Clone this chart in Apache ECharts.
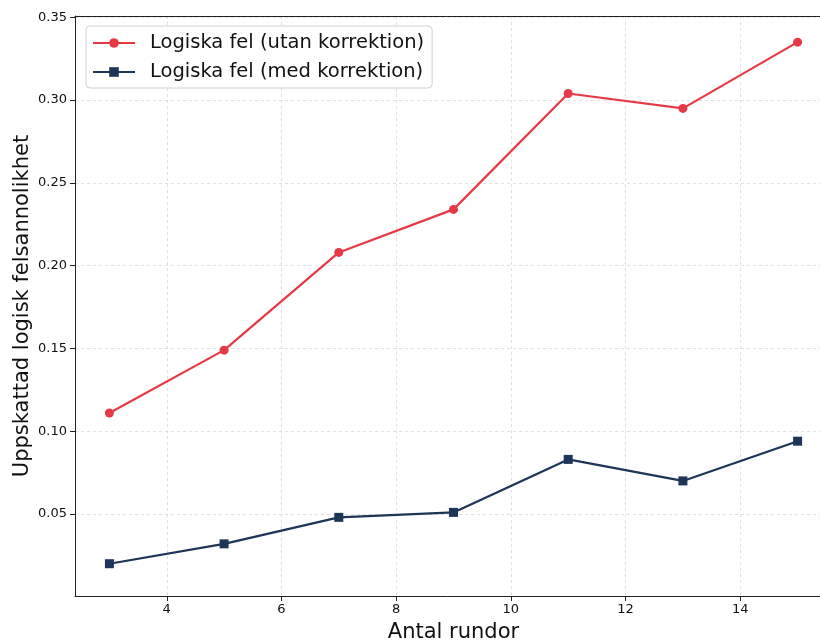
<!DOCTYPE html>
<html>
<head>
<meta charset="utf-8">
<script src="https://cdn.jsdelivr.net/npm/echarts@6/dist/echarts.min.js"></script>
<style>
  html, body { margin: 0; padding: 0; background: #fff; }
  #chart { width: 820px; height: 641px; }
</style>
</head>
<body>
<div id="chart"></div>
<script>
// Number of rounds
const rounds = [3, 5, 7, 9, 11, 13, 15];
// Estimated logical error probability
const utanKorrektion = [0.111, 0.149, 0.208, 0.234, 0.304, 0.295, 0.335];
const medKorrektion = [0.020, 0.032, 0.048, 0.051, 0.083, 0.070, 0.094];
// Tick labels
const xTicks = [4, 6, 8, 10, 12, 14];
const yTicks = [0.05, 0.10, 0.15, 0.20, 0.25, 0.30, 0.35];

const FONT = 'DejaVu Sans';
const RED = '#E63946';
const NAVY = '#1D3557';
const X_RANGE = { min: 2.4, max: 15.6 };

const chart = echarts.init(document.getElementById('chart'), null, { renderer: 'canvas' });

const pairs = (xs, ys) => xs.map((x, i) => [x, ys[i]]);

chart.setOption({
  animation: false,
  backgroundColor: '#fff',
  grid: {
    left: 75, right: -12, top: 16, bottom: 45,
    outerBoundsMode: 'none',
    containLabel: false,
    show: false
  },
  legend: {
    orient: 'vertical',
    left: 86, top: 26,
    padding: [5, 8, 4, 6],
    backgroundColor: 'rgba(255,255,255,0.85)',
    borderColor: '#d0d0d0', borderWidth: 1, borderRadius: 4,
    itemWidth: 42, itemHeight: 12, itemGap: 5,
    textStyle: { fontFamily: FONT, fontSize: 19.5, color: '#111', lineHeight: 24, padding: [0, 0, 0, 10] },
    data: ['Logiska fel (utan korrektion)', 'Logiska fel (med korrektion)']
  },
  xAxis: [
    {
      type: 'value',
      ...X_RANGE,
      name: 'Antal rundor',
      nameLocation: 'middle',
      nameGap: 26,
      nameMoveOverlap: false,
      nameTextStyle: { fontFamily: FONT, fontSize: 21, color: '#111' },
      axisLine: { show: true, lineStyle: { color: '#222', width: 1 } },
      axisTick: { show: true, customValues: xTicks, length: 5, lineStyle: { color: '#222' } },
      axisLabel: { customValues: xTicks, fontFamily: FONT, fontSize: 13, color: '#111', margin: 7 },
      splitLine: { show: true, lineStyle: { color: '#d8d8d8', type: [3, 3], width: 0.8 } }
    },
    {
      // top frame line
      type: 'value',
      ...X_RANGE,
      position: 'top',
      axisLine: { show: true, onZero: false, lineStyle: { color: '#222', width: 1 } },
      axisTick: { show: false },
      axisLabel: { show: false },
      splitLine: { show: false }
    }
  ],
  yAxis: {
    type: 'value',
    min: 0.0005, max: 0.3508,
    name: 'Uppskattad logisk felsannolikhet',
    nameLocation: 'middle',
    nameGap: 42,
    nameMoveOverlap: false,
    nameTextStyle: { fontFamily: FONT, fontSize: 21, color: '#111' },
    axisLine: { show: true, lineStyle: { color: '#222', width: 1 } },
    axisTick: { show: true, customValues: yTicks, length: 5, lineStyle: { color: '#222' } },
    axisLabel: {
      customValues: yTicks, fontFamily: FONT, fontSize: 13, color: '#111', margin: 8,
      formatter: v => v.toFixed(2)
    },
    splitLine: { show: true, lineStyle: { color: '#d8d8d8', type: [3, 3], width: 0.8 } }
  },
  series: [
    {
      name: 'Logiska fel (utan korrektion)',
      type: 'line',
      data: pairs(rounds, utanKorrektion),
      symbol: 'circle', symbolSize: 9,
      lineStyle: { color: RED, width: 2.2 },
      itemStyle: { color: RED },
      z: 3
    },
    {
      name: 'Logiska fel (med korrektion)',
      type: 'line',
      data: pairs(rounds, medKorrektion),
      symbol: 'rect', symbolSize: 9,
      lineStyle: { color: NAVY, width: 2.2 },
      itemStyle: { color: NAVY },
      z: 3
    }
  ]
});
</script>
</body>
</html>
